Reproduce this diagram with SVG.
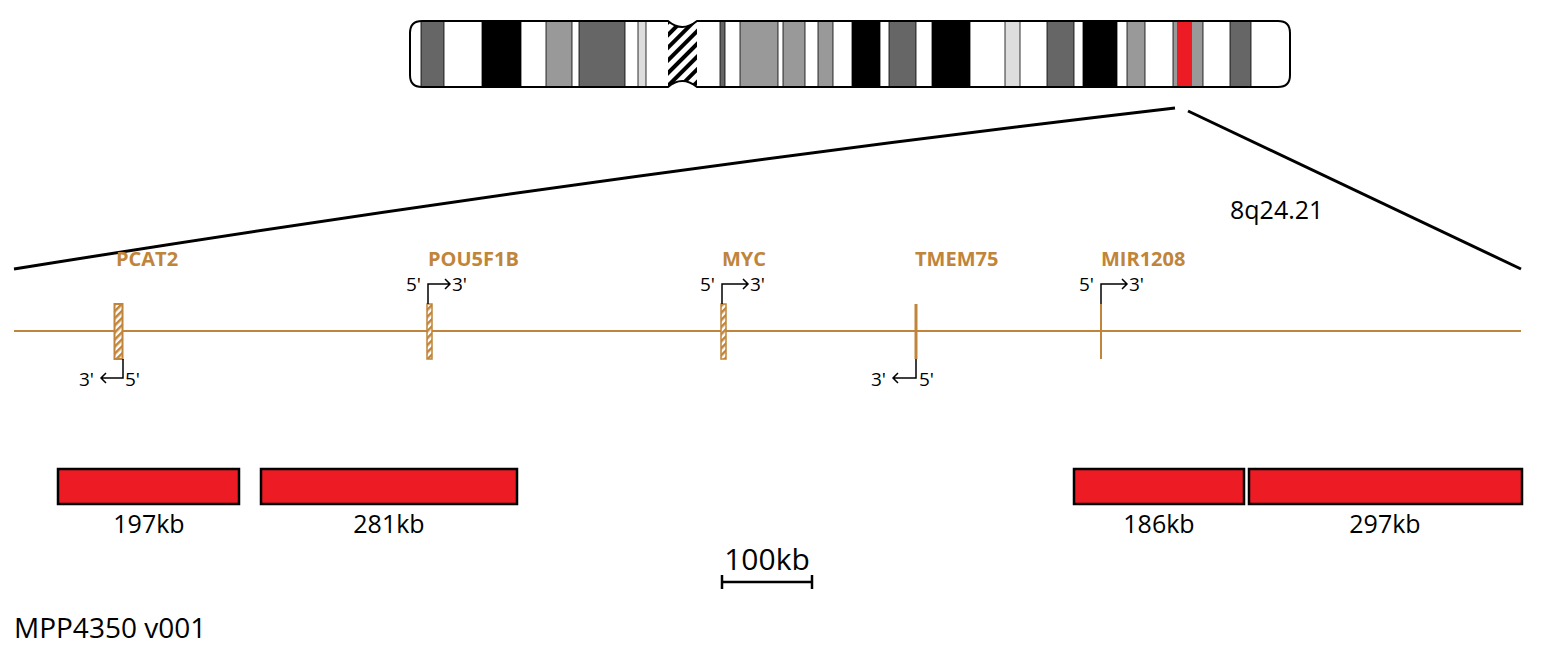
<svg xmlns="http://www.w3.org/2000/svg" width="1541" height="653" viewBox="0 0 1541 653">
<style>
text{font-family:"Open Sans","Noto Sans",sans-serif;fill:#000}
.g{fill:#c0843a;font-weight:bold;font-size:20px}
.s{font-size:19px}
.k{font-size:25px}
.gl{stroke:#c0843a}
.ar{stroke:#000;stroke-width:1.5;fill:none}
.b{stroke:#000;stroke-width:0.8}
.red{fill:#ed1c24;stroke:#000;stroke-width:2.5}
</style>
<defs>
<pattern id="h" width="5" height="5" patternUnits="userSpaceOnUse" patternTransform="rotate(45)"><rect width="5" height="5" fill="#fff"/><rect width="2.5" height="5" fill="#c0843a"/></pattern>
<pattern id="hc" width="9" height="9" patternUnits="userSpaceOnUse" patternTransform="rotate(45)"><rect width="9" height="9" fill="#fff"/><rect width="4" height="9" fill="#000"/></pattern>
<clipPath id="cp"><path d="M422,21 H668 Q682,33 697,21 H1278 Q1290,21 1290,33 V75 Q1290,87 1278,87 H697 Q682,75 668,87 H422 Q410,87 410,75 V33 Q410,21 422,21 Z"/></clipPath>
</defs>
<g id="chromosome">
<g clip-path="url(#cp)">
<rect x="405" y="15" width="890" height="80" fill="#fff"/>
<g class="b">
<rect x="421" y="21" width="23" height="66" fill="#666"/>
<rect x="482" y="21" width="39" height="66" fill="#000"/>
<rect x="546" y="21" width="26" height="66" fill="#999"/>
<rect x="579" y="21" width="46" height="66" fill="#666"/>
<rect x="638" y="21" width="8" height="66" fill="#ddd"/>
<rect x="668" y="21" width="29" height="66" fill="url(#hc)" stroke="none"/>
<rect x="720" y="21" width="5" height="66" fill="#666"/>
<rect x="740" y="21" width="38" height="66" fill="#999"/>
<rect x="783" y="21" width="22" height="66" fill="#999"/>
<rect x="818" y="21" width="15" height="66" fill="#999"/>
<rect x="852" y="21" width="28" height="66" fill="#000"/>
<rect x="889" y="21" width="27" height="66" fill="#666"/>
<rect x="932" y="21" width="38" height="66" fill="#000"/>
<rect x="1005" y="21" width="15" height="66" fill="#ddd"/>
<rect x="1047" y="21" width="27" height="66" fill="#666"/>
<rect x="1083" y="21" width="34" height="66" fill="#000"/>
<rect x="1127" y="21" width="18" height="66" fill="#999"/>
<rect x="1173" y="21" width="30" height="66" fill="#999"/>
<rect x="1177" y="21" width="15" height="66" fill="#ed1c24" stroke="none"/>
<rect x="1230" y="21" width="21" height="66" fill="#666"/>
</g>
</g>
<path d="M422,21 H668 Q682,33 697,21 H1278 Q1290,21 1290,33 V75 Q1290,87 1278,87 H697 Q682,75 668,87 H422 Q410,87 410,75 V33 Q410,21 422,21 Z" fill="none" stroke="#000" stroke-width="2"/>
</g>
<g id="connectors">
<path d="M14,269 Q600,175 1175,108" fill="none" stroke="#000" stroke-width="3"/>
<path d="M1188,111 L1521,269" fill="none" stroke="#000" stroke-width="3"/>
<line x1="14" y1="331" x2="1521" y2="331" stroke="#c0843a" stroke-width="2"/>
</g>
<text x="1230" y="219" class="k">8q24.21</text>
<g id="PCAT2">
<rect x="114.5" y="304" width="8" height="55" fill="url(#h)" class="gl" stroke-width="2"/>
<text x="116" y="266" class="g">PCAT2</text>
<path d="M123,359 V378 H101 M106,373 L101,378 L106,383" class="ar"/>
<text x="79" y="386" class="s">3'</text><text x="125" y="386" class="s">5'</text>
</g>
<g id="POU5F1B">
<rect x="427" y="304" width="5" height="55" fill="url(#h)" class="gl" stroke-width="1.5"/>
<text x="428" y="266" class="g">POU5F1B</text>
<path d="M428,304 V284 H450 M445,279 L450,284 L445,289" class="ar"/>
<text x="406" y="291" class="s">5'</text><text x="452" y="291" class="s">3'</text>
</g>
<g id="MYC">
<rect x="721" y="304" width="5" height="55" fill="url(#h)" class="gl" stroke-width="1.5"/>
<text x="722" y="266" class="g">MYC</text>
<path d="M722,304 V284 H748 M743,279 L748,284 L743,289" class="ar"/>
<text x="700" y="291" class="s">5'</text><text x="750" y="291" class="s">3'</text>
</g>
<g id="TMEM75">
<line x1="916" y1="304" x2="916" y2="359" stroke="#c0843a" stroke-width="3"/>
<text x="915" y="266" class="g">TMEM75</text>
<path d="M916,359 V378 H893 M898,373 L893,378 L898,383" class="ar"/>
<text x="871" y="386" class="s">3'</text><text x="919" y="386" class="s">5'</text>
</g>
<g id="MIR1208">
<line x1="1101" y1="304" x2="1101" y2="359" stroke="#c0843a" stroke-width="2"/>
<text x="1101" y="266" class="g">MIR1208</text>
<path d="M1101,304 V284 H1127 M1122,279 L1127,284 L1122,289" class="ar"/>
<text x="1079" y="291" class="s">5'</text><text x="1129" y="291" class="s">3'</text>
</g>
<g id="cnv">
<rect x="58" y="469" width="181" height="35" class="red"/>
<rect x="261" y="469" width="256" height="35" class="red"/>
<rect x="1074" y="469" width="170" height="35" class="red"/>
<rect x="1249" y="469" width="273" height="35" class="red"/>
<text x="149" y="533" class="k" text-anchor="middle">197kb</text>
<text x="389" y="533" class="k" text-anchor="middle">281kb</text>
<text x="1159" y="533" class="k" text-anchor="middle">186kb</text>
<text x="1385" y="533" class="k" text-anchor="middle">297kb</text>
</g>
<g id="scale">
<path d="M722,582 H812 M722,575 V589 M812,575 V589" stroke="#000" stroke-width="2.5" fill="none"/>
<text x="767" y="570" text-anchor="middle" style="font-size:30px">100kb</text>
</g>
<text x="14" y="638" style="font-size:28px">MPP4350 v001</text>
</svg>
